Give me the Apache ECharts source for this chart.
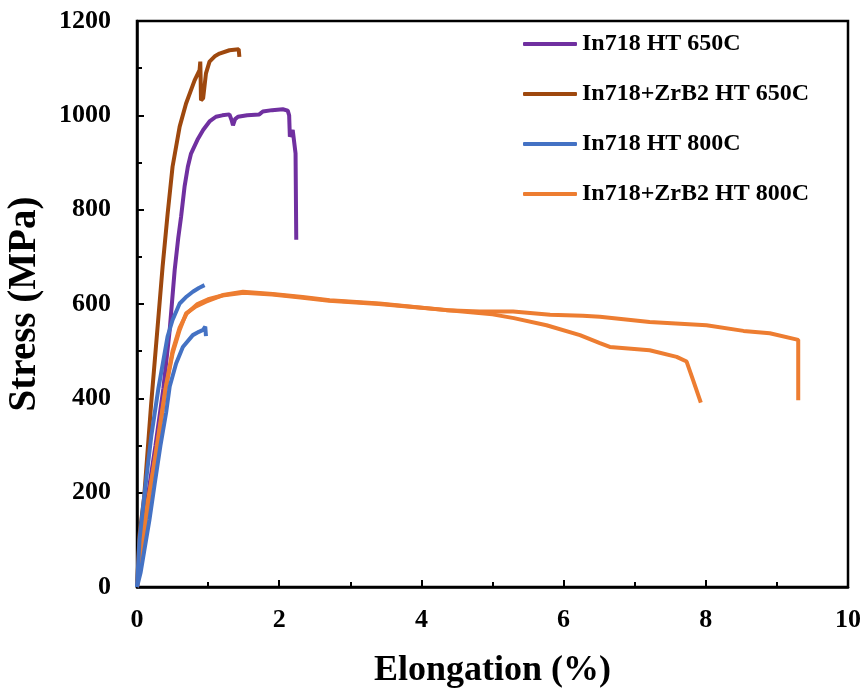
<!DOCTYPE html>
<html>
<head>
<meta charset="utf-8">
<script src="https://cdn.jsdelivr.net/npm/echarts@6/dist/echarts.min.js"></script>
<style>
  html, body { margin: 0; padding: 0; background: #fff; }
  #chart { width: 864px; height: 695px; }
</style>
</head>
<body>
<div id="chart"></div>
<script>
// stress-strain curves, [elongation %, stress MPa]
const in718Ht650 = [[0,0],[0.08,100],[0.16,200],[0.26,300],[0.37,420],[0.46,545],[0.53,672],[0.58,740],[0.62,785],[0.67,850],[0.715,891],[0.76,919],[0.85,948],[0.93,969],[1.02,987],[1.11,997],[1.2,1000],[1.3,1002],[1.33,990],[1.35,979],[1.38,992],[1.42,997],[1.55,1000],[1.72,1002],[1.77,1008],[1.9,1011],[2.05,1013],[2.12,1010],[2.14,1000],[2.15,955],[2.17,960],[2.19,969],[2.21,965],[2.23,919],[2.24,736]];
const zrb2Ht650 = [[0,0],[0.035,110],[0.1,190],[0.2,390],[0.3,570],[0.36,679],[0.43,790],[0.5,891],[0.6,976],[0.69,1025],[0.81,1074],[0.88,1096],[0.89,1114],[0.895,1080],[0.9,1032],[0.93,1036],[0.97,1089],[1.02,1114],[1.1,1126],[1.16,1131],[1.3,1138],[1.43,1140],[1.44,1124]];
const in718Ht800a = [[0,0],[0.035,100],[0.1,190],[0.2,319],[0.3,420],[0.43,531],[0.5,566],[0.6,601],[0.7,616],[0.785,626],[0.87,634],[0.95,640]];
const in718Ht800b = [[0,0],[0.05,30],[0.1,75],[0.175,142],[0.25,220],[0.33,300],[0.41,370],[0.46,425],[0.55,474],[0.645,509],[0.785,534],[0.87,541],[0.93,545],[0.96,552],[0.965,556],[0.97,532]];
const zrb2Ht800a = [[0,0],[0.08,107],[0.15,180],[0.27,283],[0.41,425],[0.5,495],[0.6,545],[0.69,580],[0.83,595],[0.97,605],[1.21,619],[1.49,626],[1.91,621],[2.33,615],[2.71,608],[3.41,601],[4.35,587],[4.82,584],[5.29,584],[5.81,577],[6.27,575],[6.51,573],[7.21,562],[8.01,555],[8.53,543],[8.9,538],[9.3,524],[9.3,396]];
const zrb2Ht800b = [[0,0],[0.1,110],[0.2,220],[0.3,320],[0.4,420],[0.5,500],[0.6,550],[0.7,580],[0.85,600],[1.0,610],[1.2,618],[1.5,624],[1.9,620],[2.3,614],[2.7,607],[3.4,600],[4.0,592],[4.5,585],[5.0,578],[5.3,570],[5.76,555],[6.23,534],[6.51,517],[6.65,509],[7.21,502],[7.59,488],[7.73,478],[7.82,439],[7.93,391]];

const legendNames = ['In718 HT 650C', 'In718+ZrB2 HT 650C', 'In718 HT 800C', 'In718+ZrB2 HT 800C'];
const colors = ['#7030A0', '#9E480E', '#4472C4', '#ED7D31'];

const font = "'Liberation Serif', 'Times New Roman', serif";

function curve(name, data, color) {
  return {
    name: name,
    type: 'line',
    data: data,
    symbol: 'none',
    lineStyle: { color: color, width: 4 },
    itemStyle: { color: color }
  };
}

const chart = echarts.init(document.getElementById('chart'));
chart.setOption({
  animation: false,
  backgroundColor: '#fff',
  grid: {
    left: 137, right: 16, top: 21, bottom: 108,
    outerBoundsMode: 'none',
    containLabel: false,
    show: true, borderColor: '#000', borderWidth: 2.5
  },
  legend: {
    data: legendNames,
    orient: 'vertical',
    left: 518, top: 27,
    icon: 'roundRect',
    itemWidth: 54, itemHeight: 4, itemGap: 26,
    textStyle: { fontFamily: font, fontWeight: 'bold', fontSize: 24, color: '#000', lineHeight: 24 }
  },
  xAxis: {
    type: 'value',
    min: 0, max: 10, interval: 2,
    name: 'Elongation (%)',
    nameLocation: 'middle',
    nameGap: 66,
    nameTextStyle: { fontFamily: font, fontWeight: 'bold', fontSize: 36, color: '#000' },
    axisLine: { lineStyle: { color: '#000', width: 2.5 } },
    axisTick: { inside: true, length: 7, lineStyle: { color: '#000', width: 2 } },
    minorTick: { show: true, splitNumber: 2, length: 5, lineStyle: { color: '#000', width: 2 } },
    splitLine: { show: false },
    axisLabel: { margin: 20, fontFamily: font, fontWeight: 'bold', fontSize: 26, color: '#000' }
  },
  yAxis: {
    type: 'value',
    min: 0, max: 1200, interval: 200,
    name: 'Stress (MPa)',
    nameLocation: 'middle',
    nameGap: 93,
    nameTextStyle: { fontFamily: font, fontWeight: 'bold', fontSize: 39, color: '#000' },
    axisLine: { show: true, lineStyle: { color: '#000', width: 2.5 } },
    axisTick: { show: true, inside: true, length: 7, lineStyle: { color: '#000', width: 2 } },
    minorTick: { show: true, splitNumber: 2, length: 5, lineStyle: { color: '#000', width: 2 } },
    splitLine: { show: false },
    axisLabel: {
      margin: 26, fontFamily: font, fontWeight: 'bold', fontSize: 26, color: '#000',
      formatter: v => String(v)
    }
  },
  series: [
    curve(legendNames[0], in718Ht650, colors[0]),
    curve(legendNames[1], zrb2Ht650, colors[1]),
    curve(legendNames[3], zrb2Ht800a, colors[3]),
    curve(legendNames[3], zrb2Ht800b, colors[3]),
    curve(legendNames[2], in718Ht800a, colors[2]),
    curve(legendNames[2], in718Ht800b, colors[2])
  ]
});
</script>
</body>
</html>
